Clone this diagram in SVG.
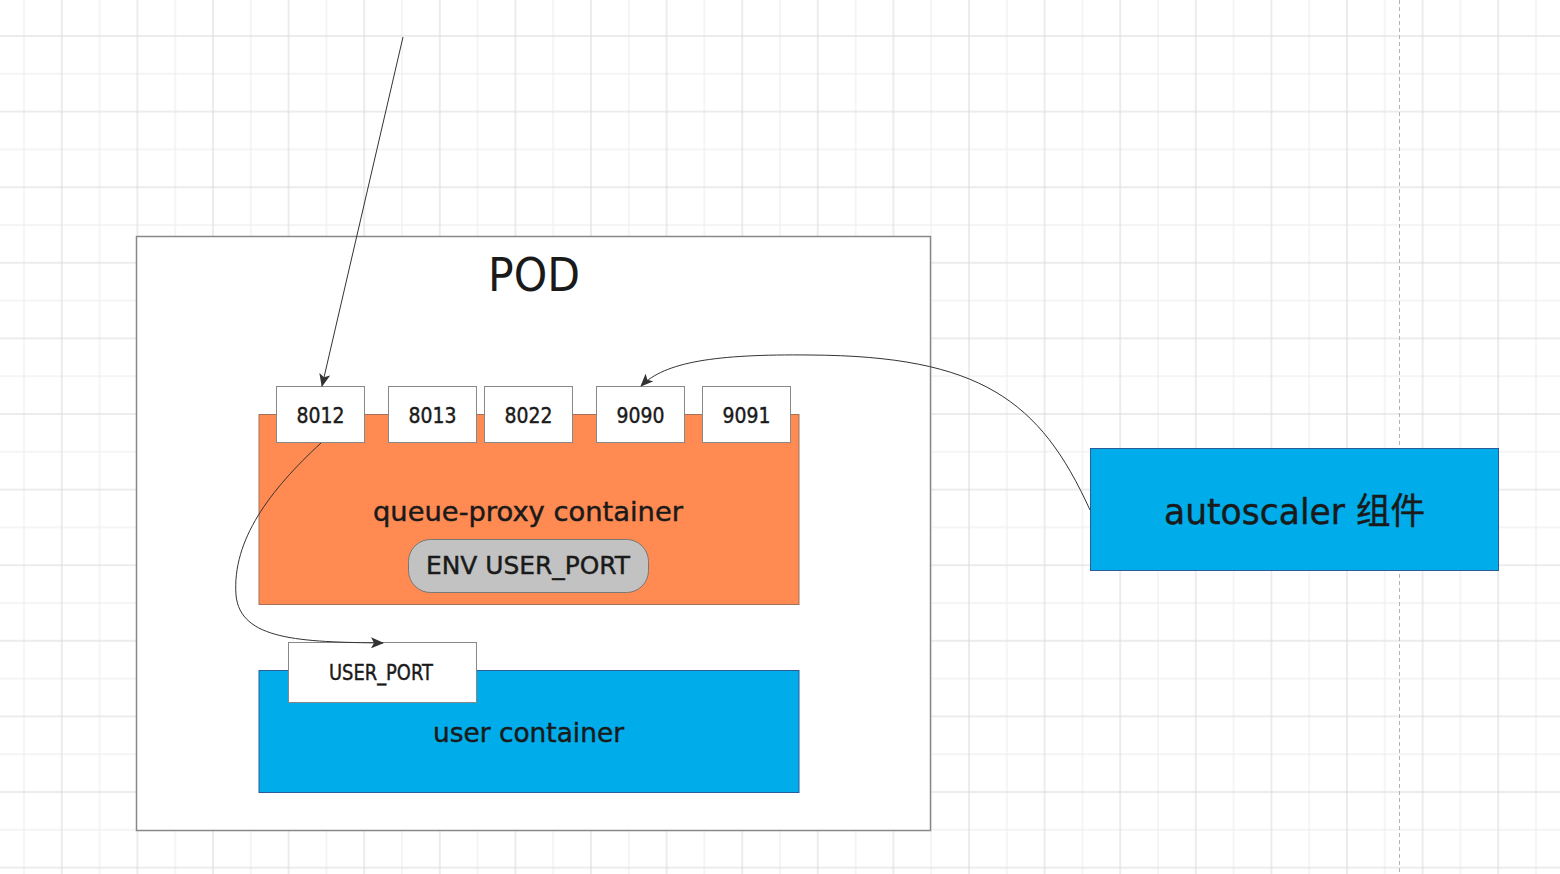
<svg xmlns="http://www.w3.org/2000/svg" width="1560" height="874" viewBox="0 0 1560 874">
<defs>
<pattern id="grid" patternUnits="userSpaceOnUse" x="5.1" y="17.1" width="75.6" height="75.6">
<line x1="18.9" y1="0" x2="18.9" y2="75.6" stroke="#ececec" stroke-width="1"/>
<line x1="0" y1="56.7" x2="75.6" y2="56.7" stroke="#ececec" stroke-width="1"/>
<line x1="56.7" y1="0" x2="56.7" y2="75.6" stroke="#d9d9d9" stroke-width="1"/>
<line x1="0" y1="18.9" x2="75.6" y2="18.9" stroke="#d9d9d9" stroke-width="1"/>
</pattern>
<marker id="arr" markerWidth="13" markerHeight="11" refX="12" refY="5.5" orient="auto" markerUnits="userSpaceOnUse">
<path d="M0,0 L13,5.5 L0,11 L3,5.5 Z" fill="#333"/>
</marker>
</defs>
<style>
.t{font-family:"DejaVu Sans","Noto Sans CJK SC",sans-serif;fill:#1a1a1a;text-anchor:middle}
.b{stroke:#1a1a1a;stroke-width:0.45}
.port{fill:#fff;stroke:#888;stroke-width:1}
.blue{fill:#00adea;stroke:#2a5c9a;stroke-width:1}
.conn{fill:none;stroke:#333;stroke-width:1}
</style>
<rect width="1560" height="874" fill="#fff"/>
<rect width="1560" height="874" fill="url(#grid)"/>
<line x1="1399.5" y1="0" x2="1399.5" y2="874" stroke="#b3b3b3" stroke-width="1" stroke-dasharray="4,3"/>

<g id="pod">
<rect x="136.5" y="236.5" width="794" height="594" fill="#fff" stroke="#888" stroke-width="1.5"/>
<text class="t" x="534" y="291" font-size="46" textLength="92" lengthAdjust="spacingAndGlyphs">POD</text>
</g>

<g id="queue-proxy">
<rect x="259" y="414.5" width="540" height="190" fill="#ff8a52" stroke="#a0725a" stroke-width="1"/>
<text class="t b" x="528" y="521" font-size="27" textLength="310" lengthAdjust="spacingAndGlyphs">queue-proxy container</text>
</g>

<g id="env">
<rect x="408.5" y="539.5" width="240" height="53" rx="22" fill="#c2c2c2" stroke="#777" stroke-width="1"/>
<text class="t b" x="528" y="573.5" font-size="25" textLength="204" lengthAdjust="spacingAndGlyphs">ENV USER_PORT</text>
</g>

<g id="p8012">
<rect class="port" x="276.5" y="386.5" width="88" height="56"/>
<text class="t b" x="320.5" y="422.5" font-size="22" textLength="48" lengthAdjust="spacingAndGlyphs">8012</text>
</g>
<g id="p8013">
<rect class="port" x="388.5" y="386.5" width="88" height="56"/>
<text class="t b" x="432.5" y="422.5" font-size="22" textLength="48" lengthAdjust="spacingAndGlyphs">8013</text>
</g>
<g id="p8022">
<rect class="port" x="484.5" y="386.5" width="88" height="56"/>
<text class="t b" x="528.5" y="422.5" font-size="22" textLength="48" lengthAdjust="spacingAndGlyphs">8022</text>
</g>
<g id="p9090">
<rect class="port" x="596.5" y="386.5" width="88" height="56"/>
<text class="t b" x="640.5" y="422.5" font-size="22" textLength="48" lengthAdjust="spacingAndGlyphs">9090</text>
</g>
<g id="p9091">
<rect class="port" x="702.5" y="386.5" width="88" height="56"/>
<text class="t b" x="746.5" y="422.5" font-size="22" textLength="48" lengthAdjust="spacingAndGlyphs">9091</text>
</g>

<g id="user-container">
<rect class="blue" x="259" y="670.5" width="540" height="122"/>
<text class="t b" x="528.5" y="742" font-size="27" textLength="191" lengthAdjust="spacingAndGlyphs">user container</text>
</g>

<g id="user-port">
<rect class="port" x="288.5" y="642.5" width="188" height="60"/>
<text class="t b" x="381" y="680" font-size="20.5" textLength="104" lengthAdjust="spacingAndGlyphs">USER_PORT</text>
</g>

<g id="autoscaler">
<rect class="blue" x="1090.5" y="448.5" width="408" height="122"/>
<text class="t b" x="1294.5" y="524" font-size="36" textLength="261" lengthAdjust="spacingAndGlyphs">autoscaler 组件</text>
</g>

<g id="connectors">
<path class="conn" d="M403,37 L322,386" marker-end="url(#arr)"/>
<path class="conn" d="M1090,510 C1040,400 980,356 810,355 C715,354 665,362 641,386" marker-end="url(#arr)"/>
<path class="conn" d="M321,443 C270,490 232,540 236,595 C240,640 300,642 383,643" marker-end="url(#arr)"/>
</g>
</svg>
